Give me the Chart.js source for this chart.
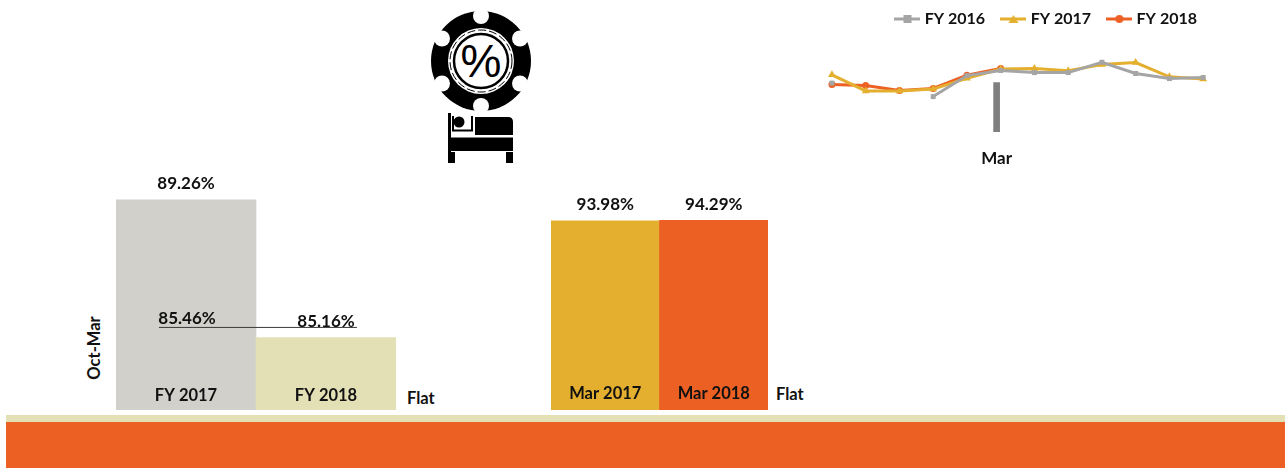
<!DOCTYPE html>
<html><head><meta charset="utf-8">
<script src="https://cdn.jsdelivr.net/npm/chart.js@4"></script>
<style>
html,body{margin:0;padding:0;background:#fff;overflow:hidden}
#page{position:relative;width:1285px;height:468px;font-family:Lato,sans-serif;font-weight:700;color:#111;overflow:hidden}
canvas{position:absolute;display:block}
.t{position:absolute;font-size:16.5px;line-height:18px;white-space:nowrap}
.band{position:absolute;left:6px;width:1279px}
svg{position:absolute;left:0;top:0}
</style></head><body>
<div id="page">
<div class="band" style="top:415px;height:7px;background:#E3E0B5"></div>
<div class="band" style="top:422px;height:46px;background:#EC6024"></div>
<svg width="1285" height="170">
  <circle cx="481" cy="61" r="50" fill="#000"/>
  <g fill="#fff">
    <circle cx="481" cy="16" r="8"/><circle cx="481" cy="106" r="8"/>
    <circle cx="442" cy="38.5" r="8"/><circle cx="520" cy="38.5" r="8"/>
    <circle cx="442" cy="83.5" r="8"/><circle cx="520" cy="83.5" r="8"/>
  </g>
  <circle cx="481" cy="61" r="33" fill="#fff"/>
  <circle cx="481" cy="61" r="31" fill="none" stroke="#000" stroke-width="1" stroke-dasharray="8 3"/>
  <circle cx="481" cy="61" r="27" fill="#fff" stroke="#000" stroke-width="2.5"/>
  <text x="481" y="77" text-anchor="middle" font-family="Liberation Sans" font-weight="400" font-size="46" fill="#000">%</text>
  <rect x="448" y="113" width="3" height="50" fill="#000"/>
  <circle cx="459" cy="122" r="5.5" fill="#000"/>
  <path d="M453 116V130.5H472V116" fill="none" stroke="#000" stroke-width="2"/>
  <path d="M475 117H508Q513 117 513 122V135H475Z" fill="#000"/>
  <rect x="448" y="137.5" width="65" height="13.5" fill="#000"/>
  <rect x="448" y="152" width="7" height="11" fill="#000"/>
  <rect x="506" y="152" width="7" height="11" fill="#000"/>
</svg>
<canvas id="line" width="405" height="186" style="left:811px;top:-8px"></canvas>
<canvas id="bar1" width="280" height="240" style="left:116px;top:170px"></canvas>
<canvas id="bar2" width="217" height="240" style="left:551px;top:170px"></canvas>
<div class="t" style="left:407px;top:389px">Flat</div>
<div class="t" style="left:776px;top:385px">Flat</div>
<div class="t" style="left:94px;top:348px;transform:translate(-50%,-50%) rotate(-90deg)">Oct-Mar</div>
</div>
<script>
const months = ['Oct','Nov','Dec','Jan','Feb','Mar','Apr','May','Jun','Jul','Aug','Sep'];
const fy2016 = [84.6,null,null,75.6,89.6,93.0,91.6,91.6,98.5,91.0,87.6,88.3];
const fy2017 = [90.1,79.4,79.4,80.6,87.8,94.0,94.3,92.8,97.0,98.3,88.8,87.4];
const fy2018 = [83.6,83.0,79.6,81.0,89.8,94.3,null,null,null,null,null,null];
const marchMarker = [null,null,null,null,null,85,null,null,null,null,null,null];
const ytdLabels = ['FY 2017','FY 2018'];
const ytdValues = [89.26,85.16];
const ytdReference = 85.46;
const marLabels = ['Mar 2017','Mar 2018'];
const marValues = [93.98,94.29];
const GREY='#A5A5A5',GOLD='#E4AF2F',ORANGE='#EC6024',INK='#111';
const FONT={family:'Lato',weight:'700',size:16.5};
Chart.defaults.animation=false;
Chart.defaults.responsive=false;
Chart.defaults.font.family='Lato';

function legendIcon(color,shape){
  const c=document.createElement('canvas');c.width=26;c.height=10;
  const g=c.getContext('2d');g.strokeStyle=color;g.fillStyle=color;g.lineWidth=3;
  g.beginPath();g.moveTo(0,5);g.lineTo(26,5);g.stroke();
  g.beginPath();
  if(shape==='rect')g.rect(9,1,8,8);
  else if(shape==='triangle'){g.moveTo(13,1);g.lineTo(18,9);g.lineTo(8,9);g.closePath();}
  else g.arc(13,5,4,0,7);
  g.fill();return c;
}
const toXY=a=>a.map((y,x)=>({x,y}));
const lineSet=(label,data,color,shape)=>({type:'line',label,data:toXY(data),xAxisID:'xLine',
  borderColor:color,backgroundColor:color,borderWidth:3,pointStyle:shape,pointRadius:shape==='triangle'?4.5:3.5,
  pointBorderWidth:0,tension:0,spanGaps:false,clip:false,order:1,icon:legendIcon(color,shape)});
const lineChart=new Chart(document.getElementById('line'),{
  data:{labels:months,datasets:[
    lineSet('FY 2016',fy2016,GREY,'rect'),
    lineSet('FY 2017',fy2017,GOLD,'triangle'),
    lineSet('FY 2018',fy2018,ORANGE,'circle'),
    {type:'bar',label:'Marker',data:marchMarker,backgroundColor:'#7F7F7F',barThickness:6,grouped:false,order:2}
  ]},
  options:{
    layout:{padding:0,autoPadding:false},
    plugins:{tooltip:{enabled:false},legend:{position:'top',align:'end',
      labels:{usePointStyle:true,pointStyleWidth:18.5,padding:19,color:INK,font:{family:'Lato',weight:'700',size:16},
        generateLabels:ch=>ch.data.datasets.slice(0,3).map((d,i)=>({text:d.label,pointStyle:d.icon,datasetIndex:i,fontColor:INK,lineWidth:0,strokeStyle:'transparent',fillStyle:'transparent'}))}}},
    scales:{
      x:{type:'category',offset:true,grid:{display:false},border:{display:false},
        afterFit:s=>{s.height=46;s.paddingLeft=0;s.paddingRight=0;},
        ticks:{mirror:true,autoSkip:false,maxRotation:0,padding:-37,color:INK,font:{family:'Lato',weight:'700',size:17},callback(v){const l=this.getLabelForValue(v);return l==='Mar'?l:'';}}},
      xLine:{type:'linear',display:false,offset:false,min:-0.62,max:11.38},
      y:{display:false,min:52,max:140}
    }
  }
});
lineChart.options.scales.y.max=52+(lineChart.chartArea.bottom-lineChart.chartArea.top)/1.5;
lineChart.update();

const valueLabels={id:'valueLabels',afterDatasetsDraw(ch,a,o){
  const g=ch.ctx,m=ch.getDatasetMeta(0);g.save();
  g.font='700 17px Lato';g.fillStyle=INK;g.textAlign='center';g.textBaseline='middle';
  ch.data.datasets[0].data.forEach((v,i)=>{
    g.fillText(v.toFixed(2)+'%',m.data[i].x,m.data[i].y-16);
  });
  if(o.reference!=null){
    g.fillText(o.reference.toFixed(2)+'%',187-116,ch.scales.y.getPixelForValue(o.reference)-9);
  }
  g.restore();
}};
function barOpts(min,max,tickPad,extra,pluginOpts){
  return {layout:{padding:0,autoPadding:false},
    plugins:{legend:{display:false},tooltip:{enabled:false},valueLabels:pluginOpts||{}},
    scales:Object.assign({
      x:{offset:true,grid:{display:false},border:{display:false},afterFit:s=>{s.height=0;s.paddingLeft=0;s.paddingRight=0;},
        ticks:{z:1,mirror:true,autoSkip:false,maxRotation:0,padding:tickPad,color:INK,font:FONT}},
      y:{display:false,min,max}},extra)};
}
new Chart(document.getElementById('bar1'),{
  plugins:[valueLabels],
  data:{labels:ytdLabels,datasets:[
    {type:'bar',data:ytdValues,backgroundColor:['#D1D0CB','#E3E0B5'],barPercentage:1,categoryPercentage:1,grouped:false,order:2},
    {type:'line',data:[{x:0.307,y:ytdReference},{x:1.721,y:ytdReference}],xAxisID:'xRef',borderColor:'#3A3A3A',borderWidth:1,pointRadius:0,order:1}
  ]},
  options:barOpts(83,90.15,4,{xRef:{type:'linear',display:false,offset:false,min:0,max:2}},{reference:ytdReference})
});
new Chart(document.getElementById('bar2'),{
  plugins:[valueLabels],
  data:{labels:marLabels,datasets:[
    {type:'bar',data:marValues,backgroundColor:[GOLD,ORANGE],barPercentage:1,categoryPercentage:1}
  ]},
  options:barOpts(0,119.3,6)
});
</script>
</body></html>
